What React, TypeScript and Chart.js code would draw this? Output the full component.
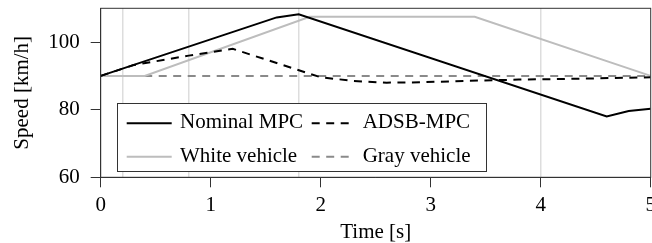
import React, { useEffect, useRef } from "react";
import { Chart, registerables } from "chart.js";

Chart.register(...registerables);

// ---- data ----
const xTicks = [0, 1, 2, 3, 4, 5];
const yTicks = [60, 80, 100];
const markerTimes = [0.2, 0.8, 1.8, 4.0];

const nominalT = [0, 1.6, 1.8, 4.6, 4.8, 5.0];
const nominalV = [90, 107.3, 108.2, 78.0, 79.6, 80.3];

const adsbT = [0, 0.3, 0.8, 1.2, 2.0, 2.3, 2.6, 2.9, 3.3, 3.8, 4.4, 5.0];
const adsbV = [90, 93.2, 96.0, 98.0, 89.6, 88.5, 88.0, 88.1, 88.5, 88.9, 89.2, 89.6];

const whiteT = [0, 0.4, 1.9, 3.4, 5.0];
const whiteV = [90, 90, 107.5, 107.5, 90];

const grayT = [0, 5.0];
const grayV = [90, 90];

const labels = ["Nominal MPC", "ADSB-MPC", "White vehicle", "Gray vehicle"];

const FONT = "'Liberation Serif', 'Times New Roman', serif";
const AX = "#333333";
const W = 680;
const H = 243;

const pts = (t: number[], v: number[]) => t.map((x, i) => ({ x, y: v[i] }));

const framePlugin = {
  id: "frame",
  afterDatasetsDraw(chart: any) {
    const { ctx, chartArea: a } = chart;
    ctx.save();
    ctx.strokeStyle = AX;
    ctx.lineWidth = 1;
    ctx.strokeRect(a.left, a.top, a.right - a.left, a.bottom - a.top);
    ctx.restore();
  },
};

const legendPlugin = {
  id: "boxLegend",
  afterDraw(chart: any) {
    const { ctx } = chart;
    const ds = chart.data.datasets;
    const bx = 117.5, by = 103.5, bw = 369, bh = 68;
    ctx.save();
    ctx.fillStyle = "#fff";
    ctx.fillRect(bx, by, bw, bh);
    ctx.strokeStyle = AX;
    ctx.lineWidth = 1;
    ctx.strokeRect(bx, by, bw, bh);
    const cols = [
      { x0: 126.7, x1: 171.7, tx: 180 },
      { x0: 311.7, x1: 351.7, tx: 362.7 },
    ];
    const rows = [
      { ly: 123.3, ty: 128.3 },
      { ly: 156.7, ty: 161.5 },
    ];
    ctx.font = `21px ${FONT}`;
    ctx.textBaseline = "alphabetic";
    ctx.textAlign = "left";
    ds.forEach((d: any, i: number) => {
      const c = cols[i % 2];
      const r = rows[Math.floor(i / 2)];
      ctx.beginPath();
      ctx.strokeStyle = d.borderColor;
      ctx.lineWidth = d.borderWidth;
      ctx.setLineDash(d.borderDash || []);
      ctx.moveTo(c.x0, r.ly);
      ctx.lineTo(c.x1, r.ly);
      ctx.stroke();
      ctx.setLineDash([]);
      ctx.fillStyle = "#000";
      ctx.fillText(d.label, c.tx, r.ty);
    });
    ctx.restore();
  },
};

export default function App() {
  const ref = useRef<HTMLCanvasElement | null>(null);

  useEffect(() => {
    document.documentElement.style.overflow = "hidden";
    document.body.style.overflow = "hidden";
    document.body.style.margin = "0";
    const canvas = ref.current;
    if (!canvas) return;
    const tickFont = { family: FONT, size: 21 };
    const chart = new Chart(canvas, {
      type: "line",
      data: {
        datasets: [
          { label: labels[0], data: pts(nominalT, nominalV), borderColor: "#000000", borderWidth: 2 },
          { label: labels[1], data: pts(adsbT, adsbV), borderColor: "#000000", borderWidth: 2, borderDash: [8, 6.5] },
          { label: labels[2], data: pts(whiteT, whiteV), borderColor: "#bdbdbd", borderWidth: 2 },
          { label: labels[3], data: pts(grayT, grayV), borderColor: "#8a8a8a", borderWidth: 2, borderDash: [8, 6.5] },
        ],
      },
      options: {
        animation: false,
        responsive: false,
        devicePixelRatio: 1,
        layout: { padding: { top: 8.3, left: 0, right: W - 650.7, bottom: 0 } },
        elements: { point: { radius: 0 }, line: { tension: 0, borderCapStyle: "butt" } },
        plugins: { legend: { display: false }, tooltip: { enabled: false } },
        scales: {
          x: {
            type: "linear",
            position: "bottom",
            min: 0,
            max: 5,
            afterBuildTicks: (s: any) => {
              s.ticks = xTicks.map((v) => ({ value: v }));
            },
            afterFit: (s: any) => {
              s.height = H - 177.3;
              s.paddingLeft = 0;
              s.paddingRight = 0;
            },
            grid: { drawOnChartArea: false, drawTicks: true, tickLength: 10, tickColor: AX, tickWidth: 1 },
            border: { display: true, color: AX, width: 1 },
            ticks: { font: tickFont, color: "#000", padding: 6, maxRotation: 0, autoSkip: false },
            title: {
              display: true,
              text: "Time [s]",
              color: "#000",
              font: { family: FONT, size: 21, lineHeight: 1 },
              padding: 0,
            },
          },
          xm: {
            type: "linear",
            position: "top",
            min: 0,
            max: 5,
            afterBuildTicks: (s: any) => {
              s.ticks = markerTimes.map((v) => ({ value: v }));
            },
            afterFit: (s: any) => {
              s.height = 0;
              s.paddingLeft = 0;
              s.paddingRight = 0;
            },
            grid: { color: "#dddddd", lineWidth: 1.5, drawTicks: false },
            border: { display: false },
            ticks: { display: false },
          },
          y: {
            type: "linear",
            position: "left",
            min: 60,
            max: 110,
            afterBuildTicks: (s: any) => {
              s.ticks = yTicks.map((v) => ({ value: v }));
            },
            afterFit: (s: any) => {
              s.width = 100.7;
              s.paddingTop = 0;
              s.paddingBottom = 0;
            },
            grid: { drawOnChartArea: false, drawTicks: true, tickLength: 10, tickColor: AX, tickWidth: 1 },
            border: { display: true, color: AX, width: 1 },
            ticks: { font: tickFont, color: "#000", padding: 11 },
            title: {
              display: true,
              text: "Speed [km/h]",
              color: "#000",
              font: { family: FONT, size: 21, lineHeight: 1 },
              padding: { top: 12, bottom: 0 },
            },
          },
        },
      },
      plugins: [framePlugin, legendPlugin],
    } as any);
    return () => chart.destroy();
  }, []);

  return (
    <div style={{ position: "fixed", left: 0, top: 0, width: W, height: H, background: "#fff" }}>
      <canvas ref={ref} width={W} height={H} style={{ display: "block", width: W, height: H }} />
    </div>
  );
}
